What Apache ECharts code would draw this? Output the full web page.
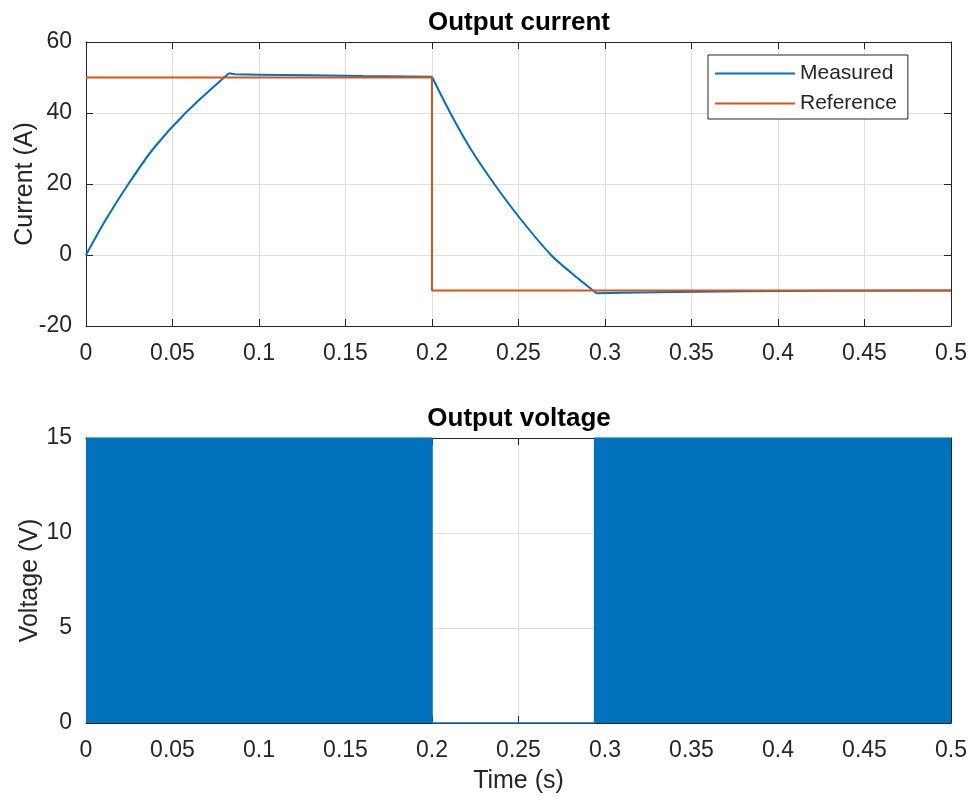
<!DOCTYPE html>
<html><head><meta charset="utf-8">
<script src="https://cdn.jsdelivr.net/npm/echarts@6/dist/echarts.min.js"></script>
<style>html,body{margin:0;padding:0;background:#fff}#c{width:974px;height:802px}</style>
</head><body><div id="c"></div>
<script>
// ---- data ----
// Measured current, split into its four phases (rise, hold, fall, hold)
const measuredRiseTime    = [0, 0.0115, 0.0245, 0.039, 0.0575, 0.0826];
const measuredRiseCurrent = [0, 10, 20, 30, 40, 51.2];
const measuredHoldTime    = [0.0826, 0.086, 0.10, 0.13, 0.16, 0.2];
const measuredHoldCurrent = [51.2, 50.9, 50.8, 50.6, 50.4, 50.2];
const measuredFallTime    = [0.2, 0.2106, 0.2222, 0.236, 0.2514, 0.2688, 0.2804, 0.2931, 0.2952];
const measuredFallCurrent = [50.2, 40, 30, 20, 10, 0, -5, -10, -10.8];
const measuredTailTime    = [0.2952, 0.31, 0.34, 0.38, 0.43, 0.5];
const measuredTailCurrent = [-10.8, -10.6, -10.4, -10.2, -10.1, -10];
const referenceTime    = [0, 0.2, 0.2, 0.5];
const referenceCurrent = [50, 50, -10, -10];
const voltageTime  = [0, 0.2, 0.2, 0.294, 0.294, 0.5];
const voltageValue = [15, 15, 0, 0, 15, 15];
const seriesNames = ['Measured', 'Reference'];
const titles = ['Output current', 'Output voltage'];

const FONT = 'Liberation Sans, Arial, sans-serif';
const AX = '#262626';
const GRIDC = '#dedede';
const BLUE = '#0072BD', ORANGE = '#D95319';
const pairs = (xs, ys) => xs.map((x, i) => [x, ys[i]]);
const fmtT = v => String(parseFloat(v.toFixed(2)));

function xAxisPair(g, name) {
  const base = {
    type: 'value', gridIndex: g, min: 0, max: 0.5, interval: 0.05,
    axisLine: { show: true, onZero: false, lineStyle: { color: AX, width: 1 } },
    axisTick: { show: true, inside: true, length: 7, lineStyle: { color: AX } }
  };
  return [
    Object.assign({}, base, {
      position: 'bottom',
      axisLabel: { show: true, margin: 16, fontSize: 23, fontFamily: FONT, color: AX, formatter: fmtT },
      splitLine: { show: true, lineStyle: { color: GRIDC, width: 1 } },
      name: name, nameLocation: 'middle', nameGap: 46, nameMoveOverlap: false,
      nameTextStyle: { fontSize: 25, fontFamily: FONT, color: AX }
    }),
    Object.assign({}, base, {
      position: 'top', axisLabel: { show: false }, splitLine: { show: false }
    })
  ];
}
function yAxisPair(g, min, max, interval, name, gap) {
  const base = {
    type: 'value', gridIndex: g, min: min, max: max, interval: interval,
    axisLine: { show: true, onZero: false, lineStyle: { color: AX, width: 1 } },
    axisTick: { show: true, inside: true, length: 7, lineStyle: { color: AX } }
  };
  return [
    Object.assign({}, base, {
      position: 'left',
      axisLabel: { show: true, margin: 14, fontSize: 23, fontFamily: FONT, color: AX },
      splitLine: { show: true, lineStyle: { color: GRIDC, width: 1 } },
      name: name, nameLocation: 'middle', nameGap: gap, nameMoveOverlap: false,
      nameTextStyle: { fontSize: 25, fontFamily: FONT, color: AX }
    }),
    Object.assign({}, base, {
      position: 'right', axisLabel: { show: false }, splitLine: { show: false }
    })
  ];
}
function measuredSeg(ts, vs, smooth) {
  return { name: seriesNames[0], type: 'line', xAxisIndex: 0, yAxisIndex: 0,
    data: pairs(ts, vs), showSymbol: false, symbol: 'none', smooth: smooth,
    lineStyle: { color: BLUE, width: 2 }, itemStyle: { color: BLUE } };
}

const chart = echarts.init(document.getElementById('c'), null, { renderer: 'canvas' });
chart.setOption({
  animation: false,
  backgroundColor: '#ffffff',
  title: [
    { text: titles[0], left: 514, top: 5, textAlign: 'center',
      textStyle: { fontSize: 26, fontWeight: 'bold', fontFamily: FONT, color: '#000' } },
    { text: titles[1], left: 514, top: 401, textAlign: 'center',
      textStyle: { fontSize: 26, fontWeight: 'bold', fontFamily: FONT, color: '#000' } }
  ],
  grid: [
    { left: 86, top: 42, width: 865, height: 284, containLabel: false, outerBoundsMode: 'none' },
    { left: 86, top: 438, width: 865, height: 285, containLabel: false, outerBoundsMode: 'none' }
  ],
  legend: {
    data: seriesNames, orient: 'vertical', left: 708, top: 55,
    icon: 'rect', itemWidth: 80, itemHeight: 2, itemGap: 9,
    padding: [8, 11, 5, 7],
    backgroundColor: '#ffffff', borderColor: AX, borderWidth: 1,
    textStyle: { fontSize: 21, fontFamily: FONT, color: AX }
  },
  xAxis: [].concat(xAxisPair(0, ''), xAxisPair(1, 'Time (s)')),
  yAxis: [].concat(yAxisPair(0, -20, 60, 20, 'Current (A)', 48), yAxisPair(1, 0, 15, 5, 'Voltage (V)', 43)),
  series: [
    measuredSeg(measuredRiseTime, measuredRiseCurrent, 0.3),
    measuredSeg(measuredHoldTime, measuredHoldCurrent, false),
    measuredSeg(measuredFallTime, measuredFallCurrent, 0.3),
    measuredSeg(measuredTailTime, measuredTailCurrent, false),
    { name: seriesNames[1], type: 'line', xAxisIndex: 0, yAxisIndex: 0,
      data: pairs(referenceTime, referenceCurrent), showSymbol: false, symbol: 'none',
      lineStyle: { color: ORANGE, width: 2 }, itemStyle: { color: ORANGE } },
    { name: 'Output voltage', type: 'line', xAxisIndex: 2, yAxisIndex: 2,
      data: pairs(voltageTime, voltageValue), showSymbol: false, symbol: 'none',
      lineStyle: { color: BLUE, width: 1.5 }, itemStyle: { color: BLUE },
      areaStyle: { color: BLUE, opacity: 1, origin: 'start' } }
  ]
});
</script>
</body></html>
